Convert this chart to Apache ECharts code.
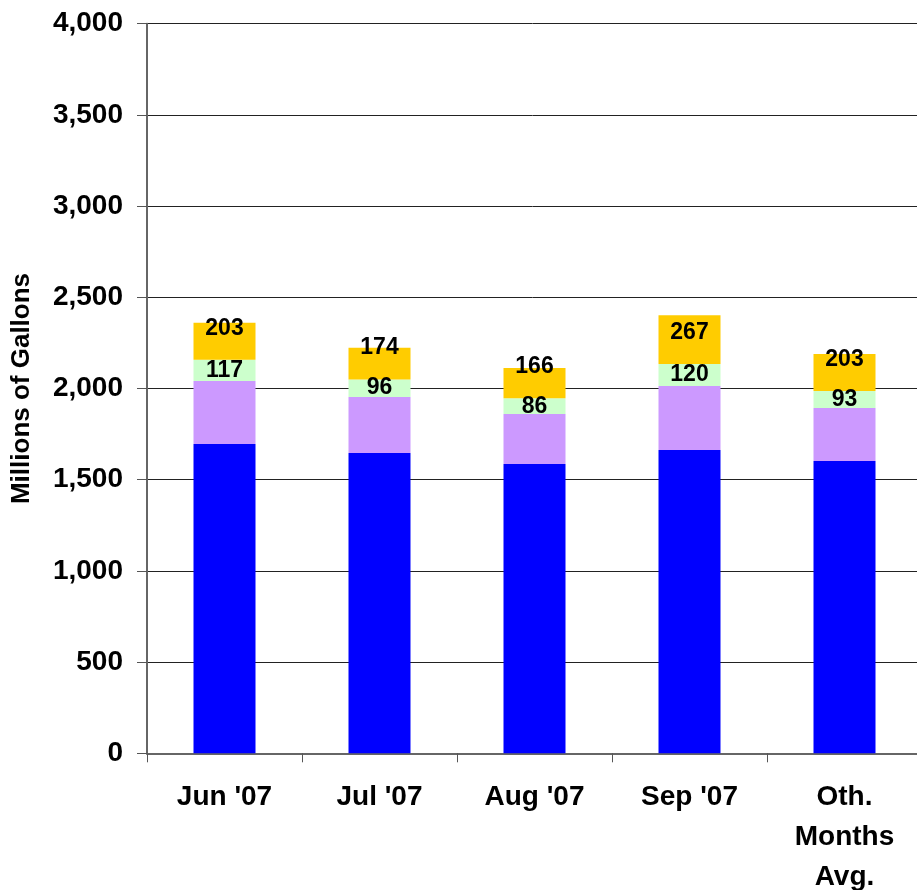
<!DOCTYPE html>
<html>
<head>
<meta charset="utf-8">
<script src="https://cdn.jsdelivr.net/npm/echarts@6/dist/echarts.min.js"></script>
<style>
  html, body { margin: 0; padding: 0; background: #fff; }
  #chart { width: 917px; height: 890px; }
</style>
</head>
<body>
<div id="chart"></div>
<script>
var categories = ["Jun '07", "Jul '07", "Aug '07", "Sep '07", "Oth.\nMonths\nAvg."];
var blueVals = [1696, 1646, 1586, 1663, 1603];
var purpleVals = [345, 308, 274, 351, 290];
var greenVals = [117, 96, 86, 120, 93];
var orangeVals = [203, 174, 166, 267, 203];
var yTicks = [0, 500, 1000, 1500, 2000, 2500, 3000, 3500, 4000];

var font = "'Liberation Sans', Arial, sans-serif";

var chart = echarts.init(document.getElementById('chart'));

var barLabel = function(pos, dist){
	return {
		show: true,
		position: pos,
		distance: dist,
		color: '#000',
		fontFamily: font,
		fontWeight: 'bold',
		fontSize: 23
	};
};

var option = {
	animation: false,
	grid: {
		left: 147,
		right: -5,
		top: 23.7,
		bottom: 136.7,
		containLabel: false,
		outerBoundsMode: 'none'
	},
	xAxis: {
		type: 'category',
		data: categories,
		axisLine: { lineStyle: { color: '#666', width: 2 } },
		axisTick: { show: true, length: 9, lineStyle: { color: '#555', width: 1 } },
		axisLabel: {
			color: '#000',
			fontFamily: font,
			fontWeight: 'bold',
			fontSize: 28,
			lineHeight: 40,
			margin: 24
		}
	},
	yAxis: {
		type: 'value',
		min: yTicks[0],
		max: yTicks[yTicks.length - 1],
		interval: 500,
		name: 'Millions of Gallons',
		nameLocation: 'middle',
		nameGap: 112,
		nameTextStyle: {
			color: '#000',
			fontFamily: font,
			fontWeight: 'bold',
			fontSize: 26
		},
		axisLine: { show: true, lineStyle: { color: '#666', width: 2 } },
		axisTick: { show: true, length: 10, lineStyle: { color: '#555', width: 1 } },
		axisLabel: {
			color: '#000',
			fontFamily: font,
			fontWeight: 'bold',
			fontSize: 28,
			margin: 24,
			formatter: function(v){ return v.toLocaleString('en-US'); }
		},
		splitLine: { show: true, lineStyle: { color: '#222', width: 1 } }
	},
	series: [
		{ name: 'blue', type: 'bar', stack: 'a', barWidth: '40%', data: blueVals, itemStyle: { color: '#0000FF' } },
		{ name: 'purple', type: 'bar', stack: 'a', data: purpleVals, itemStyle: { color: '#CC99FF' } },
		{ name: 'green', type: 'bar', stack: 'a', data: greenVals, itemStyle: { color: '#CCFFCC' }, label: barLabel('inside', 0) },
		{ name: 'orange', type: 'bar', stack: 'a', data: orangeVals, itemStyle: { color: '#FFCC00' }, label: barLabel('insideBottom', 20) }
	]
};

chart.setOption(option);
</script>
</body>
</html>
